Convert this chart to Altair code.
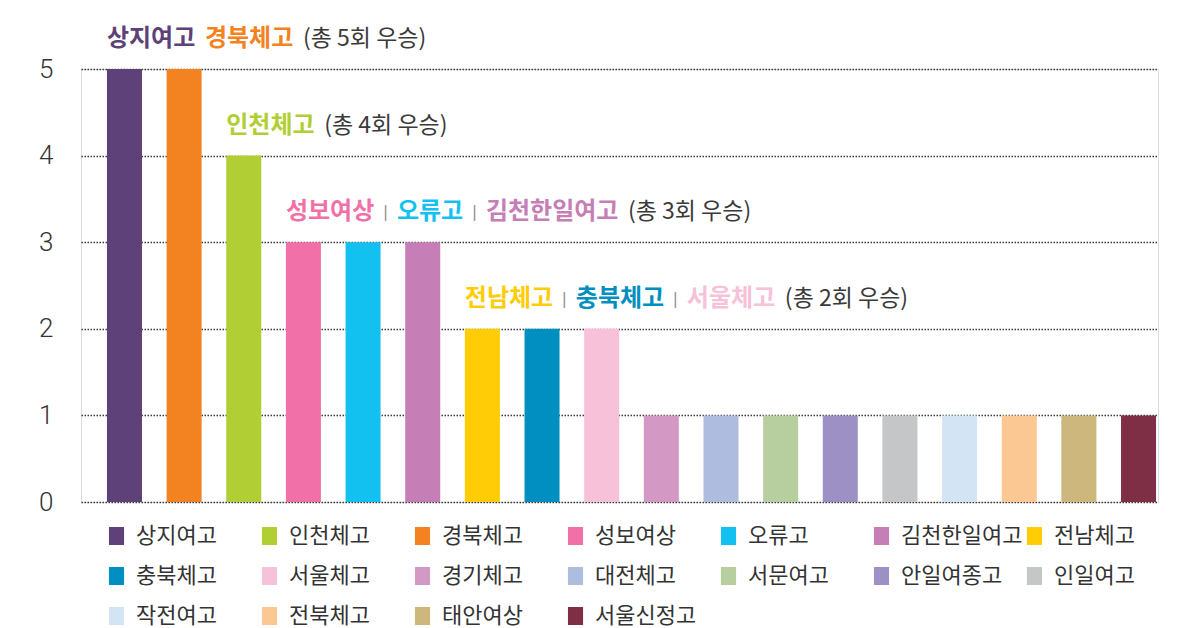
import altair as alt
import pandas as pd

# ---- data ----
schools = ["상지여고", "경북체고", "인천체고", "성보여상", "오류고", "김천한일여고",
           "전남체고", "충북체고", "서울체고", "경기체고", "대전체고", "서문여고",
           "안일여종고", "인일여고", "작전여고", "전북체고", "태안여상", "서울신정고"]
wins = [5, 5, 4, 3, 3, 3, 2, 2, 2, 1, 1, 1, 1, 1, 1, 1, 1, 1]
bar_colors = ["#5E4178", "#F38220", "#B1CF34", "#F170A8", "#13C1F0", "#C67EB6",
              "#FFCC05", "#008FC0", "#F7C1D9", "#D399C4", "#AEBCE0", "#B7CF9F",
              "#9C90C5", "#C5C6C8", "#D3E4F4", "#FBC793", "#CDB77D", "#7E2F45"]
legend_order = ["상지여고", "인천체고", "경북체고", "성보여상", "오류고", "김천한일여고",
                "전남체고", "충북체고", "서울체고", "경기체고", "대전체고", "서문여고",
                "안일여종고", "인일여고", "작전여고", "전북체고", "태안여상", "서울신정고"]

ann_names = [["상지여고", "경북체고"], ["인천체고"],
             ["성보여상", "오류고", "김천한일여고"], ["전남체고", "충북체고", "서울체고"]]
ann_values = [5, 4, 3, 2]
ann_suffix = ["(총 5회 우승)", "(총 4회 우승)", "(총 3회 우승)", "(총 2회 우승)"]
ann_sep = [" ", " ", "|", "|"]

color_of = dict(zip(schools, bar_colors))
df = pd.DataFrame({"school": schools, "wins": wins})

KFONT = "Noto Sans CJK KR"
xscale = alt.Scale(domain=schools, paddingInner=0.413, paddingOuter=0.234, align=0.93)
yscale = alt.Scale(domain=[0, 5], nice=False)

bars = alt.Chart(df).mark_bar().encode(
    x=alt.X("school:N", scale=xscale, axis=None, sort=schools),
    y=alt.Y("wins:Q", scale=yscale,
            axis=alt.Axis(values=[0, 1, 2, 3, 4, 5], format="d", title=None,
                          domain=False, ticks=False,
                          labelFont="Roboto", labelFontWeight=300, labelFontSize=26,
                          labelColor="#333333", labelPadding=28,
                          grid=True, gridColor="#3a3a3a", gridDash=[1.5, 1.5],
                          gridWidth=1.3)),
    color=alt.Color("school:N",
                    scale=alt.Scale(domain=legend_order,
                                    range=[color_of[s] for s in legend_order]),
                    legend=alt.Legend(orient="none", legendX=24.5, legendY=456,
                                      direction="horizontal", columns=7, title=None,
                                      symbolType="M-0.84,-1H0.84V1H-0.84Z",
                                      symbolSize=324, symbolStrokeWidth=0,
                                      symbolOpacity=1,
                                      labelFont=KFONT, labelFontSize=22,
                                      labelColor="#333333", labelOffset=8.5,
                                      columnPadding=1, rowPadding=18,
                                      gridAlign="all", padding=0, labelLimit=300)),
)

layers = [bars]
NAME_SIZE = 24
NAME_W = 22  # rendered width per Hangul glyph at NAME_SIZE
for names, val, suffix, sep in zip(ann_names, ann_values, ann_suffix, ann_sep):
    anchor = names[0]
    seg_df = pd.DataFrame({"school": [anchor], "wins": [val]})
    enc = dict(x=alt.X("school:N", scale=xscale, bandPosition=0, sort=schools),
               y=alt.Y("wins:Q", scale=yscale))
    dx = 0.0
    for i, nm in enumerate(names):
        layers.append(alt.Chart(seg_df).mark_text(
            text=nm, align="left", baseline="middle", dx=dx, dy=-30,
            font=KFONT, fontSize=NAME_SIZE, fontWeight="bold", color=color_of[nm]
        ).encode(**enc))
        dx += len(nm) * NAME_W
        if i < len(names) - 1:
            if sep == "|":
                dx += 9
                layers.append(alt.Chart(seg_df).mark_text(
                    text="|", align="left", baseline="middle", dx=dx, dy=-30,
                    font="DejaVu Sans", fontSize=15, color="#8a8a8a"
                ).encode(**enc))
                dx += 14
            else:
                dx += 10
    dx += 10
    layers.append(alt.Chart(seg_df).mark_text(
        text=suffix, align="left", baseline="middle", dx=dx, dy=-30,
        font=KFONT, fontSize=23, color="#3a3a3a"
    ).encode(**enc))

chart = alt.layer(*layers).properties(
    width=1077, height=433,
    autosize=alt.AutoSizeParams(type="none"),
    padding={"left": 73, "top": 61, "right": 12, "bottom": 128},
).configure_view(stroke=None).configure(background="white")

chart.save("out.html", embed_options={"renderer": "svg", "actions": False})
